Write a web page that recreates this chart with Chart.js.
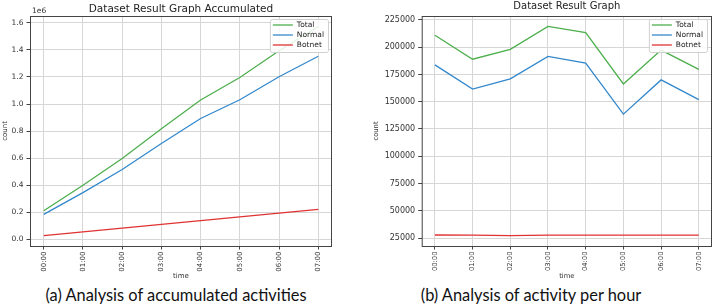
<!DOCTYPE html>
<html>
<head>
<meta charset="utf-8">
<script src="https://cdn.jsdelivr.net/npm/chart.js@4"></script>
<style>
  html, body { margin: 0; padding: 0; background: #fff; }
  body { width: 714px; height: 305px; position: relative; overflow: hidden; }
  .wrap { position: absolute; top: 0; height: 282px; }
  .cap { position: absolute; top: 285px; font-family: Lato, "Open Sans", sans-serif; font-size: 16.4px; color: #111; white-space: nowrap; transform: translateX(-50%); }
</style>
</head>
<body>
<div class="wrap" style="left:0;width:345px"><canvas id="c-acc"></canvas></div>
<div class="wrap" style="left:355px;width:359px"><canvas id="c-hour"></canvas></div>
<div class="cap" style="left:176px">(a) Analysis of accumulated activities</div>
<div class="cap" style="left:531px">(b) Analysis of activity per hour</div>
<script>
const hours = ['00:00', '01:00', '02:00', '03:00', '04:00', '05:00', '06:00', '07:00'];

// accumulated counts (left)
const totalAcc  = [211000, 400000, 598000, 817000, 1030300, 1196600, 1393900, 1573500];
const normalAcc = [183800, 345300, 516200, 707800, 893100, 1031700, 1201700, 1353600];
const botnetAcc = [27800, 55500, 82800, 110400, 138100, 165700, 193300, 220900];
const accTicks  = [0, 200000, 400000, 600000, 800000, 1000000, 1200000, 1400000, 1600000];

// per hour counts (right)
const totalHour  = [211000, 189000, 198000, 219000, 213300, 166300, 197300, 179600];
const normalHour = [183800, 161500, 170900, 191600, 185300, 138600, 170000, 151900];
const botnetHour = [27800, 27700, 27300, 27600, 27700, 27600, 27600, 27600];
const hourTicks  = [25000, 50000, 75000, 100000, 125000, 150000, 175000, 200000, 225000];

const GREEN = '#4caf4c', BLUE = '#3388cc', RED = '#e03232';
const FONT = '"DejaVu Sans", sans-serif';

const pts = arr => arr.map((v, i) => ({ x: i, y: v }));

// matplotlib-ish frame, title, offset text and legend
const mplPlugin = {
  id: 'mpl',
  afterDraw(chart, args, o) {
    const { ctx, chartArea: a } = chart;
    ctx.save();
    ctx.strokeStyle = '#444';
    ctx.lineWidth = 1;
    ctx.strokeRect(a.left + 0.5, a.top + 0.5, a.right - a.left - 1, a.bottom - a.top);

    ctx.fillStyle = '#222';
    ctx.font = o.titleSize + 'px ' + FONT;
    ctx.textAlign = 'center';
    ctx.textBaseline = 'middle';
    ctx.fillText(o.title, (a.left + a.right) / 2, o.titleY);

    if (o.offset) {
      ctx.font = o.tickSize + 'px ' + FONT;
      ctx.textAlign = 'left';
      ctx.fillStyle = '#333';
      ctx.fillText(o.offset, a.left + 2, a.top - 5);
    }

    // legend
    ctx.font = o.legSize + 'px ' + FONT;
    const ds = chart.data.datasets;
    const tw = Math.max(...ds.map(d => ctx.measureText(d.label).width));
    const w = 3 + 20 + 4 + tw + 4, h = 33;
    const x = a.right - o.legRight - w, y = a.top + 3;
    ctx.beginPath();
    ctx.roundRect(x + 0.5, y + 0.5, w, h, 2);
    ctx.fillStyle = 'rgba(255,255,255,0.85)';
    ctx.fill();
    ctx.strokeStyle = '#d0d0d0';
    ctx.stroke();
    ds.forEach((d, i) => {
      const ly = y + 6 + i * 10;
      ctx.strokeStyle = d.borderColor;
      ctx.lineWidth = 1.3;
      ctx.beginPath();
      ctx.moveTo(x + 3, ly);
      ctx.lineTo(x + 23, ly);
      ctx.stroke();
      ctx.fillStyle = '#222';
      ctx.textAlign = 'left';
      ctx.fillText(d.label, x + 27, ly + 0.5);
    });
    ctx.restore();
  }
};

function makeChart(id, series, cfg) {
  const datasets = series.map(s => ({
    label: s.label, data: pts(s.data),
    borderColor: s.color, borderWidth: 1.3,
    pointRadius: 0, fill: false, tension: 0
  }));
  return new Chart(document.getElementById(id), {
    type: 'line',
    data: { datasets },
    plugins: [mplPlugin],
    options: {
      responsive: true, maintainAspectRatio: false, animation: false,
      layout: { padding: { top: 16, left: cfg.padLeft, right: cfg.padRight, bottom: 0 } },
      plugins: {
        legend: { display: false }, tooltip: { enabled: false },
        mpl: { title: cfg.title, titleSize: cfg.titleSize, titleY: cfg.titleY, offset: cfg.offset,
               tickSize: cfg.tickSize, legSize: cfg.legSize, legRight: cfg.legRight }
      },
      scales: {
        x: {
          type: 'linear', min: -0.35, max: 7.35,
          afterBuildTicks: s => { s.ticks = hours.map((h, i) => ({ value: i })); },
          afterFit: s => { s.height = 36; },
          grid: { color: '#d6d6d6', tickColor: '#444', tickLength: 3.5 },
          border: { display: false },
          ticks: { autoSkip: false, minRotation: 90, maxRotation: 90, padding: 2,
                   color: '#333', font: { family: FONT, size: cfg.xTickSize },
                   callback: v => hours[Math.round(v)] },
          title: { display: true, text: 'time', color: '#333', padding: { top: 0, bottom: 2 },
                   font: { family: FONT, size: cfg.xTickSize } }
        },
        y: {
          min: cfg.yMin, max: cfg.yMax,
          afterBuildTicks: s => { s.ticks = cfg.yTicks.map(v => ({ value: v })); },
          afterFit: s => { s.width = cfg.yWidth; },
          grid: { color: '#d6d6d6', tickColor: '#444', tickLength: 3.5 },
          border: { display: false },
          ticks: { padding: 3, color: '#333', font: { family: FONT, size: cfg.tickSize },
                   callback: cfg.yFmt },
          title: { display: true, text: 'count', color: '#333', padding: { top: 1, bottom: 0 },
                   font: { family: FONT, size: cfg.xTickSize } }
        }
      }
    }
  });
}

makeChart('c-acc', [
  { label: 'Total', data: totalAcc, color: GREEN },
  { label: 'Normal', data: normalAcc, color: BLUE },
  { label: 'Botnet', data: botnetAcc, color: RED }
], {
  title: 'Dataset Result Graph Accumulated', titleSize: 10.5, titleY: 9, offset: '1e6',
  tickSize: 7.5, xTickSize: 7, legSize: 7.5, legRight: 4,
  padLeft: 0, padRight: 13, yWidth: 30,
  yMin: -49500, yMax: 1650800, yTicks: accTicks,
  yFmt: v => (v / 1e6).toFixed(1)
});

makeChart('c-hour', [
  { label: 'Total', data: totalHour, color: GREEN },
  { label: 'Normal', data: normalHour, color: BLUE },
  { label: 'Botnet', data: botnetHour, color: RED }
], {
  title: 'Dataset Result Graph', titleSize: 10, titleY: 6, offset: null,
  tickSize: 8, xTickSize: 6.8, legSize: 7.5, legRight: 5,
  padLeft: 16, padRight: 2, yWidth: 50.7,
  yMin: 17715, yMax: 228585, yTicks: hourTicks,
  yFmt: v => String(v)
});
</script>
</body>
</html>
